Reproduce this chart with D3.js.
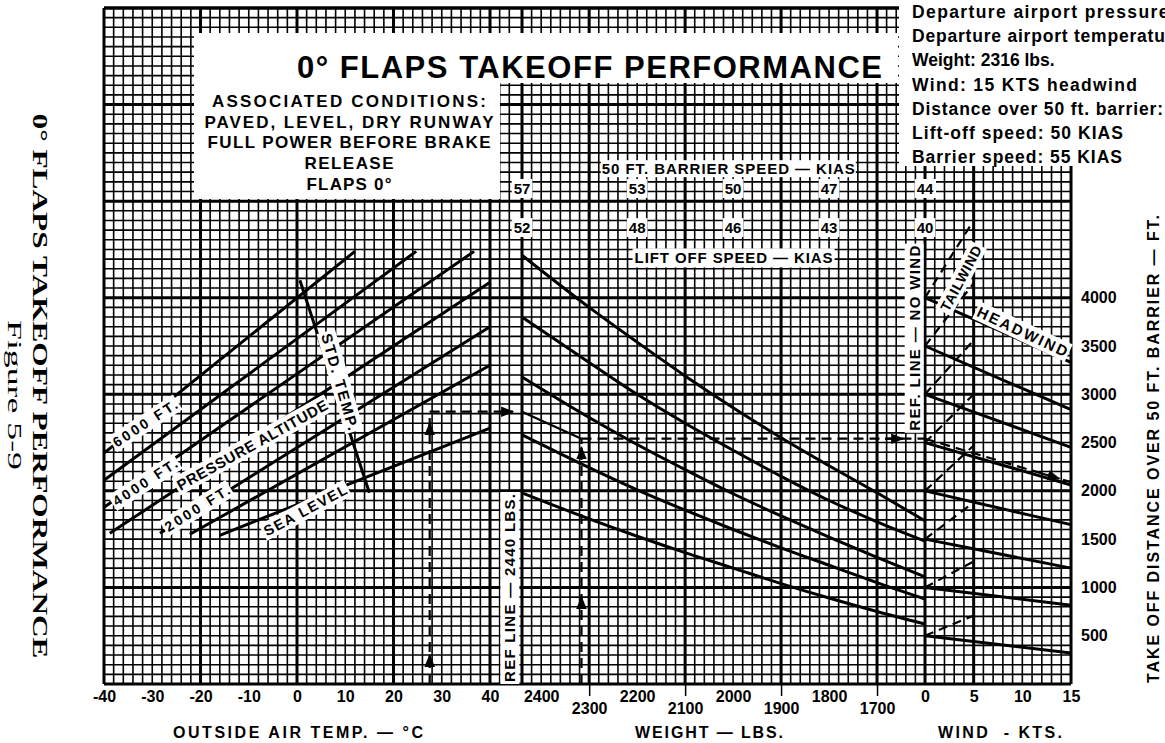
<!DOCTYPE html>
<html>
<head>
<meta charset="utf-8">
<title>0° Flaps Takeoff Performance</title>
<script src="https://cdn.jsdelivr.net/npm/d3@7/dist/d3.min.js"></script>
<style>
  body { margin: 0; background: #fff; }
  svg { display: block; font-family: "Liberation Sans", Arial, Helvetica, sans-serif; font-weight: bold; }
  .axis path.domain { display: none; }
  .axis text { font-size: 16px; font-weight: bold; fill: #000; }
</style>
</head>
<body>
<svg id="chart" width="1165" height="743"></svg>
<script>
// ---- values ----
const tempTicks = [-40, -30, -20, -10, 0, 10, 20, 30, 40];
const weightTicksTop = [2400, 2200, 2000, 1800];
const weightTicksLow = [2300, 2100, 1900, 1700];
const windTicks = [0, 5, 10, 15];
const distTicks = [500, 1000, 1500, 2000, 2500, 3000, 3500, 4000];

// pressure altitude lines, [temp C, distance ft] at each end
const altNames = ['6000', '5000', '4000', '3000', '2000', '1000', 'SL'];
const altStart = [[-40, 2390], [-40, 2110], [-40, 1830], [-38.8, 1560], [-28.4, 1560], [-22.2, 1550], [-16, 1540]];
const altEnd = [[12, 4480], [24.7, 4480], [36.7, 4480], [40, 4160], [40, 3700], [40, 3300], [40, 2650]];
const stdTempLine = [[0.6, 4180], [15, 1980]];

// weight guide lines, distance ft at each weight
const curveWeights = [2440, 2300, 2200, 2100, 2000, 1900, 1800, 1700, 1600];
const guideA = [4440, 3900, 3540, 3190, 2860, 2550, 2260, 1980, 1690];
const guideB = [3800, 3330, 3000, 2700, 2420, 2150, 1900, 1680, 1480];
const guideC = [3180, 2760, 2480, 2220, 1970, 1740, 1520, 1310, 1110];
const guideD = [2580, 2240, 2010, 1800, 1600, 1410, 1230, 1050, 880];
const guideE = [1980, 1710, 1530, 1360, 1200, 1040, 890, 750, 620];

const speedWeights = [2440, 2200, 2000, 1800, 1600];
const barrierSpeeds = [57, 53, 50, 47, 44];
const liftoffSpeeds = [52, 48, 46, 43, 40];

// wind section: distance at no wind, at 15 kts headwind, at 5 kts tailwind
const windBase = [500, 1000, 1500, 2000, 2500, 3000, 3500, 4000];
const headwind15 = [320, 815, 1200, 1650, 2060, 2450, 2840, 3330];
const tailwind5 = [710, 1270, 1880, 2470, 3000, 3560, 4150, 4800];

// worked example
const exTemp = 27.5, exAltDist = 2820, exWeight = 2316, exWeightDist = 2540, exWind = 15, exResult = 2090;

const givens = [
  'Departure airport pressure altitude',
  'Departure airport temperature',
  'Weight: 2316 lbs.',
  'Wind: 15 KTS headwind',
  'Distance over 50 ft. barrier:',
  'Lift-off speed: 50 KIAS',
  'Barrier speed: 55 KIAS'
];
const conditions = ['ASSOCIATED CONDITIONS:', 'PAVED, LEVEL, DRY RUNWAY', 'FULL POWER BEFORE BRAKE', 'RELEASE', 'FLAPS 0°'];

// ---- scales ----
const yD = d3.scaleLinear().domain([0, 7000]).range([684, 8]);
const xT = d3.scaleLinear().domain([-40, 40]).range([104, 490]);
const xW = d3.scaleLinear().domain([2440, 1600]).range([522, 925]);
const xK = d3.scaleLinear().domain([0, 15]).range([925, 1071]);

const svg = d3.select('#chart');

svg.append('defs').append('marker')
  .attr('id', 'arr').attr('viewBox', '0 0 10 10')
  .attr('refX', 9).attr('refY', 5)
  .attr('markerWidth', 6).attr('markerHeight', 6)
  .attr('orient', 'auto')
  .append('path').attr('d', 'M0,1L10,5L0,9z').attr('fill', '#000');

// ---- grid ----
const grid = svg.append('g').attr('stroke', '#000');
const gLeft = xT(-40), gRight = xK(15), gTop = yD(7000), gBottom = yD(0);

const vMinor = []
  .concat(xT.ticks(40).map(xT))
  .concat([42, 44].map(xT))
  .concat(xW.ticks(42).map(xW))
  .concat(xK.ticks(15).map(xK));
grid.selectAll('.vmin').data(vMinor).enter().append('line')
  .attr('x1', d => d).attr('x2', d => d).attr('y1', gTop).attr('y2', gBottom)
  .attr('stroke-width', 1.6);
grid.selectAll('.hmin').data(yD.ticks(70)).enter().append('line')
  .attr('x1', gLeft).attr('x2', gRight).attr('y1', d => yD(d)).attr('y2', d => yD(d))
  .attr('stroke-width', 1.6);

const vMajor = [-40, -20, 0, 20, 40].map(xT)
  .concat([2440, 2300, 2100, 1900, 1700].map(xW))
  .concat([0, 5, 15].map(xK));
grid.selectAll('.vmaj').data(vMajor).enter().append('line')
  .attr('x1', d => d).attr('x2', d => d).attr('y1', gTop).attr('y2', gBottom)
  .attr('stroke-width', 3);
grid.selectAll('.hmaj').data(yD.ticks(7)).enter().append('line')
  .attr('x1', gLeft).attr('x2', gRight).attr('y1', d => yD(d)).attr('y2', d => yD(d))
  .attr('stroke-width', 3);

// white areas cut out of the grid
svg.append('rect').attr('x', 194).attr('y', 33).attr('width', 704).attr('height', 50).attr('fill', '#fff');
svg.append('rect').attr('x', 194).attr('y', 83).attr('width', 306).attr('height', 116).attr('fill', '#fff');
svg.append('rect').attr('x', 899).attr('y', 0).attr('width', 266).attr('height', 166).attr('fill', '#fff');
svg.append('line').attr('x1', gLeft).attr('x2', 899).attr('y1', gTop).attr('y2', gTop)
  .attr('stroke', '#000').attr('stroke-width', 3);

// ---- temperature section ----
const lineT = d3.line().x(d => xT(d[0])).y(d => yD(d[1]));
svg.append('g').selectAll('path').data(altNames).enter().append('path')
  .attr('d', (d, i) => lineT([altStart[i], altEnd[i]]))
  .attr('fill', 'none').attr('stroke', '#000').attr('stroke-width', 3);
svg.append('path').attr('d', lineT(stdTempLine))
  .attr('fill', 'none').attr('stroke', '#000').attr('stroke-width', 3);

// ---- weight section ----
const lineW = d3.line().x(d => xW(d[0])).y(d => yD(d[1])).curve(d3.curveMonotoneX);
const guides = [guideA, guideB, guideC, guideD, guideE];
svg.append('g').selectAll('path').data(guides).enter().append('path')
  .attr('d', g => lineW(curveWeights.map((w, i) => [w, g[i]])))
  .attr('fill', 'none').attr('stroke', '#000').attr('stroke-width', 3);

// ---- wind section ----
const lineK = d3.line().x(d => xK(d[0])).y(d => yD(d[1]));
svg.append('g').selectAll('path').data(windBase).enter().append('path')
  .attr('d', (d, i) => lineK([[0, d], [15, headwind15[i]]]))
  .attr('fill', 'none').attr('stroke', '#000').attr('stroke-width', 3);
svg.append('g').selectAll('path').data(windBase).enter().append('path')
  .attr('d', (d, i) => lineK([[0, d], [5, tailwind5[i]]]))
  .attr('fill', 'none').attr('stroke', '#000').attr('stroke-width', 2.2)
  .attr('stroke-dasharray', '9,6');

// ---- worked example ----
const ex = svg.append('g').attr('fill', 'none').attr('stroke', '#000').attr('stroke-width', 2.2);
ex.append('path').attr('d', lineT([[exTemp, 0], [exTemp, exAltDist]])).attr('stroke-dasharray', '10,6');
ex.append('path').attr('d', lineT([[exTemp, 280], [exTemp, 300]])).attr('marker-end', 'url(#arr)');
ex.append('path').attr('d', lineT([[exTemp, 2600], [exTemp, 2700]])).attr('marker-end', 'url(#arr)');
ex.append('path').attr('d', `M${xT(exTemp)},${yD(exAltDist)}H${xW(2440) - 9}`)
  .attr('stroke-dasharray', '10,6').attr('marker-end', 'url(#arr)');
ex.append('path').attr('d', lineW([[2440, exAltDist], [exWeight, exWeightDist]]));
ex.append('path').attr('d', lineW([[exWeight, 0], [exWeight, exWeightDist]])).attr('stroke-dasharray', '10,6');
ex.append('path').attr('d', lineW([[exWeight, 850], [exWeight, 900]])).attr('marker-end', 'url(#arr)');
ex.append('path').attr('d', lineW([[exWeight, 2350], [exWeight, 2450]])).attr('marker-end', 'url(#arr)');
ex.append('path').attr('d', `M${xW(exWeight)},${yD(exWeightDist)}H${xK(0)}`).attr('stroke-dasharray', '10,6');
ex.append('path').attr('d', `M${xK(0) - 40},${yD(exWeightDist)}H${xK(0) - 22}`).attr('marker-end', 'url(#arr)');
ex.append('path').attr('d', lineK([[0, exWeightDist], [exWind, exResult]])).attr('stroke-dasharray', '10,6');
ex.append('path').attr('d', lineK([[12, exWeightDist - (exWeightDist - exResult) * 0.8], [13.8, exWeightDist - (exWeightDist - exResult) * 0.92]]))
  .attr('marker-end', 'url(#arr)');

// ---- labels with white backing ----
function tag(x, y, txt, angle, size, pad, len) {
  const g = svg.append('g').attr('transform', `translate(${x},${y}) rotate(${angle})`);
  const r = g.append('rect').attr('fill', '#fff');
  const t = g.append('text').attr('text-anchor', 'middle').attr('dy', '0.36em')
    .style('font-size', size + 'px').text(txt);
  if (len) t.attr('textLength', len);
  const b = t.node().getBBox();
  r.attr('x', b.x - pad).attr('y', b.y + 1 - pad)
    .attr('width', b.width + 2 * pad).attr('height', b.height - 2 + 2 * pad);
  return t;
}

tag(xT(-31.5), yD(2700), '6000 FT.', -33, 14, 2, 74);
tag(xT(-31.5), yD(2090), '4000 FT.', -33, 14, 2, 74);
tag(xT(-9.3), yD(2475), 'PRESSURE ALTITUDE', -29, 15, 2, 170);
tag(xT(-20.7), yD(1820), '2000 FT.', -32, 14, 2, 74);
tag(xT(1.7), yD(1800), 'SEA LEVEL', -28, 14.5, 2, 92);
tag(xT(8.9), yD(3130), 'STD. TEMP.', 74, 15, 2, 100);
tag(xK(3.7), yD(4200), 'TAILWIND', -62, 14, 2, 72);
tag(xK(10), yD(3650), 'HEADWIND', 25, 15, 2, 98);
tag(xK(-1.1), yD(3580), 'REF. LINE — NO WIND', -90, 15, 2, 185);
tag(xW(2465), yD(994), 'REF LINE — 2440 LBS.', -90, 15, 2, 188);
tag(xW(2010), yD(5335), '50 FT. BARRIER SPEED — KIAS', 0, 15, 1, 253);
tag(xW(1999), yD(4411), 'LIFT OFF SPEED — KIAS', 0, 15, 2, 198);
speedWeights.forEach((w, i) => {
  tag(xW(w), yD(5130), barrierSpeeds[i], 0, 15, 2);
  tag(xW(w), yD(4725), liftoffSpeeds[i], 0, 15, 2);
});

// ---- titles and notes ----
svg.append('text').attr('x', 297).attr('y', 78).attr('textLength', 585)
  .style('font-size', '31px').text('0° FLAPS TAKEOFF PERFORMANCE');
const condWidths = [274, 289, 283, 89, 85];
svg.append('g').selectAll('text').data(conditions).enter().append('text')
  .attr('x', 349).attr('y', (d, i) => 107 + i * 20.7)
  .attr('text-anchor', 'middle').attr('textLength', (d, i) => condWidths[i])
  .style('font-size', '17px').text(d => d);
const givenWidths = [336, 271, null, 225, 251, 211, 210];
svg.append('g').selectAll('text').data(givens).enter().append('text')
  .attr('x', 912).attr('y', (d, i) => 18 + i * 24.2)
  .attr('textLength', (d, i) => givenWidths[i])
  .style('font-size', '17.5px').text(d => d);

svg.append('text').attr('transform', 'translate(33,386) rotate(90)')
  .attr('text-anchor', 'middle').attr('textLength', 545).attr('lengthAdjust', 'spacingAndGlyphs')
  .style('font-family', '"Liberation Serif", "DejaVu Serif", serif').style('font-size', '21px')
  .text('0° FLAPS TAKEOFF PERFORMANCE');
svg.append('text').attr('transform', 'translate(8,395) rotate(90)')
  .attr('text-anchor', 'middle').attr('textLength', 150).attr('lengthAdjust', 'spacingAndGlyphs')
  .style('font-family', '"Liberation Serif", "DejaVu Serif", serif').style('font-size', '19px')
  .style('font-weight', 'normal').text('Figure 5-9');

// ---- axes ----
const plain = d => String(d);
svg.append('g').attr('class', 'axis').attr('transform', `translate(0,${gBottom})`)
  .call(d3.axisBottom(xT).tickValues(tempTicks).tickSize(0).tickPadding(7).tickFormat(plain));
svg.append('g').attr('class', 'axis').attr('transform', `translate(0,${gBottom})`)
  .call(d3.axisBottom(xW).tickValues(weightTicksTop).tickSize(0).tickPadding(7).tickFormat(plain));
svg.append('g').attr('class', 'axis').attr('transform', `translate(0,${gBottom})`)
  .call(d3.axisBottom(xW).tickValues(weightTicksLow).tickSizeInner(12).tickPadding(7).tickFormat(plain))
  .selectAll('.tick line').attr('stroke', '#000').attr('stroke-width', 1.5);
svg.append('g').attr('class', 'axis').attr('transform', `translate(0,${gBottom})`)
  .call(d3.axisBottom(xK).tickValues(windTicks).tickSize(0).tickPadding(7).tickFormat(plain));
svg.append('g').attr('class', 'axis').attr('transform', `translate(${gRight},0)`)
  .call(d3.axisRight(yD).tickValues(distTicks).tickSize(0).tickPadding(10).tickFormat(plain));

svg.append('text').attr('x', 298).attr('y', 738).attr('text-anchor', 'middle').attr('textLength', 250)
  .style('font-size', '16px').text('OUTSIDE AIR TEMP. — °C');
svg.append('text').attr('x', 709).attr('y', 738).attr('text-anchor', 'middle').attr('textLength', 148)
  .style('font-size', '16px').text('WEIGHT — LBS.');
svg.append('text').attr('x', 1000).attr('y', 738).attr('text-anchor', 'middle').attr('textLength', 124)
  .style('font-size', '16px').attr('xml:space', 'preserve').text('WIND  - KTS.');
svg.append('text').attr('transform', 'translate(1159,449) rotate(-90)')
  .attr('text-anchor', 'middle').attr('textLength', 468)
  .style('font-size', '16px').text('TAKE OFF DISTANCE OVER 50 FT. BARRIER — FT.');
</script>
</body>
</html>
